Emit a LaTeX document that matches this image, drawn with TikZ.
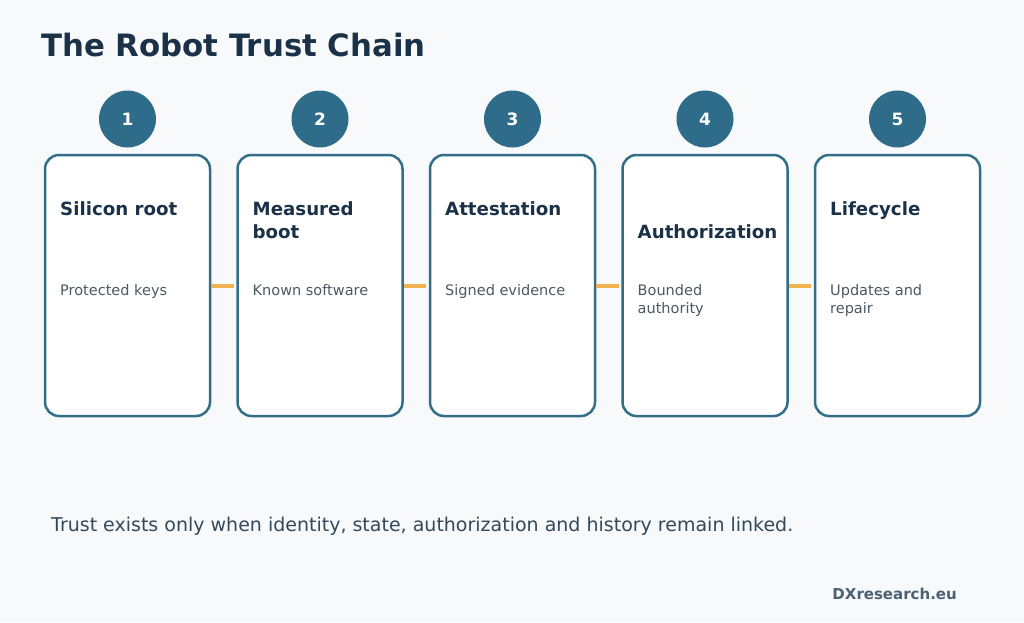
\documentclass[tikz,border=0pt]{standalone}
\usepackage{fontspec}
\setmainfont{DejaVu Sans}
\definecolor{bg}{HTML}{F7F9FB}
\definecolor{navy}{HTML}{1B3147}
\definecolor{teal}{HTML}{2E6C8A}
\definecolor{boxline}{HTML}{336E89}
\definecolor{orange}{HTML}{F0B24E}
\definecolor{bodygray}{HTML}{4C5863}
\definecolor{foot}{HTML}{34495A}
\definecolor{brand}{HTML}{4A6272}
\tikzset{
  stepbox/.style={draw=boxline, line width=2.5pt, fill=white, rounded corners=14pt},
  badge/.style={circle, fill=teal, minimum size=57pt, inner sep=0pt, text=white, font=\fontsize{17}{20}\selectfont\bfseries},
  head/.style={anchor=base west, inner sep=0pt, text=navy, align=left, font=\fontsize{18.2}{23}\selectfont\bfseries},
  body/.style={anchor=base west, inner sep=0pt, text=bodygray, align=left, font=\fontsize{14.5}{18.5}\selectfont},
  link/.style={draw=orange, line width=3.5pt},
}
\begin{document}
\begin{tikzpicture}[x=1pt,y=-1pt]
\fill[bg] (0,0) rectangle (1024,622);
\useasboundingbox (0,0) rectangle (1024,622);
\node[anchor=base west, inner sep=0pt, text=navy, font=\fontsize{30.8}{36}\selectfont\bfseries] (title) at (41,56) {The Robot Trust Chain};
\foreach \i/\x in {1/45,2/237.5,3/430,4/622.5,5/815}{
  \path[stepbox] (\x,155) rectangle (\x+165,416);
  \node[inner sep=0pt] (box\i) at (\x+82.5,285.5) {};
  \coordinate (box\i w) at (\x,286);
  \coordinate (box\i e) at (\x+165,286);
  \node[badge] (c\i) at (\x+82.5,119) {\i};
}
\node[head] (h1) at (60,215) {Silicon root};
\node[head] (h2) at (252.5,238) {Measured\\boot};
\node[head] (h3) at (445,215) {Attestation};
\node[head] (h4) at (637.5,238) {Authorization};
\node[head] (h5) at (830,215) {Lifecycle};
\node[body] (t1) at (60,295) {Protected keys};
\node[body] (t2) at (252.5,295) {Known software};
\node[body] (t3) at (445,295) {Signed evidence};
\node[body] (t4) at (637.5,313.5) {Bounded\\authority};
\node[body] (t5) at (830,313.5) {Updates and\\repair};
\foreach \a/\b in {1/2,2/3,3/4,4/5}{
  \draw[link] ([xshift=1pt]box\a e) -- ([xshift=-4pt]box\b w);
}
\node[anchor=base west, inner sep=0pt, text=foot, font=\fontsize{19}{22}\selectfont] (foot) at (51,531) {Trust exists only when identity, state, authorization and history remain linked.};
\node[anchor=base east, inner sep=0pt, text=brand, font=\fontsize{15}{18}\selectfont\bfseries] (brand) at (957,599) {DXresearch.eu};
\end{tikzpicture}
\end{document}
